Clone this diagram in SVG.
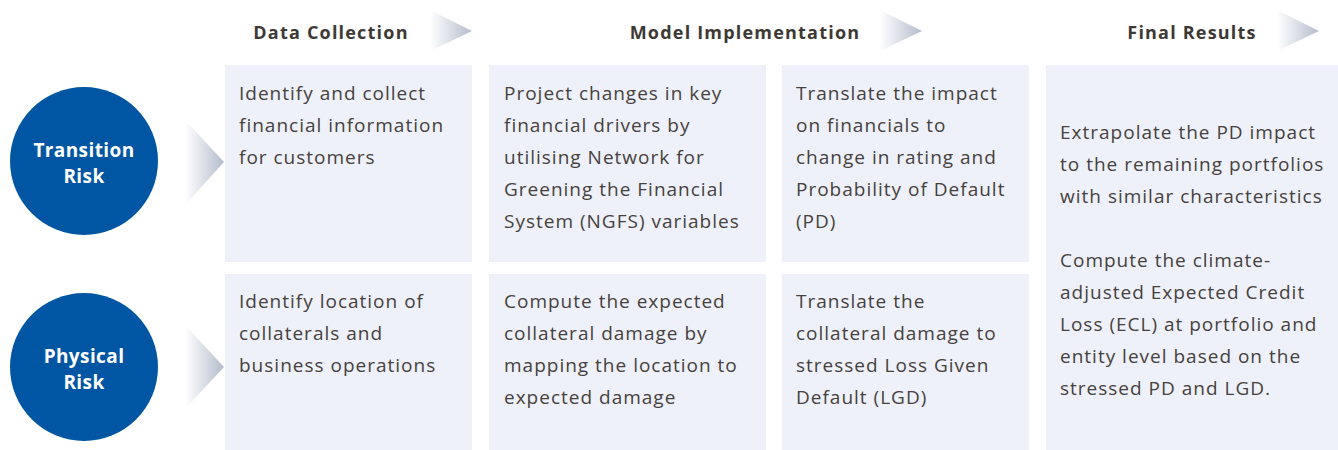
<svg xmlns="http://www.w3.org/2000/svg" width="1338" height="450" viewBox="0 0 1338 450">
<defs>
<linearGradient id="gh" x1="0" y1="0" x2="1" y2="0">
<stop offset="0" stop-color="#ffffff"/>
<stop offset="1" stop-color="#b3bccd"/>
</linearGradient>
<style>
.box{fill:#eef1fa}
.t{font-family:"Open Sans","Liberation Sans",Arial,sans-serif;font-size:19px;letter-spacing:1px;fill:#46413d}
.h{font-family:"Open Sans","Liberation Sans",Arial,sans-serif;font-size:18px;font-weight:bold;letter-spacing:1.2px;fill:#3d3935}
.c{font-family:"Open Sans","Liberation Sans",Arial,sans-serif;font-size:19px;font-weight:bold;letter-spacing:0.4px;fill:#ffffff;text-anchor:middle}
.circ{fill:#0056a2}
.arr{fill:url(#gh)}
</style>
</defs>
<rect width="1338" height="450" fill="#ffffff"/>
<g id="headers">
<text class="h" x="331" y="39" text-anchor="middle">Data Collection</text>
<polygon class="arr" points="430,10 472,31 430,51"/>
<text class="h" x="745" y="39" text-anchor="middle">Model Implementation</text>
<polygon class="arr" points="880,10 922,31 880,51"/>
<text class="h" x="1192" y="39" text-anchor="middle">Final Results</text>
<polygon class="arr" points="1277,10 1319,31 1277,51"/>
</g>
<g id="transition-risk">
<circle class="circ" cx="84" cy="161" r="74"/>
<text class="c" x="84" y="157">Transition</text>
<text class="c" x="84" y="183">Risk</text>
<polygon class="arr" points="185,120 224,162 185,205"/>
</g>
<g id="physical-risk">
<circle class="circ" cx="84" cy="367" r="74"/>
<text class="c" x="84" y="363">Physical</text>
<text class="c" x="84" y="389">Risk</text>
<polygon class="arr" points="185,325 224,367 185,409"/>
</g>
<g id="box-dc-transition">
<rect class="box" x="225" y="65" width="247" height="197"/>
<text class="t" x="239" y="100">Identify and collect</text>
<text class="t" x="239" y="132">financial information</text>
<text class="t" x="239" y="164">for customers</text>
</g>
<g id="box-dc-physical">
<rect class="box" x="225" y="274" width="247" height="176"/>
<text class="t" x="239" y="308">Identify location of</text>
<text class="t" x="239" y="340">collaterals and</text>
<text class="t" x="239" y="372">business operations</text>
</g>
<g id="box-mi1-transition">
<rect class="box" x="489" y="65" width="277" height="197"/>
<text class="t" x="504" y="100">Project changes in key</text>
<text class="t" x="504" y="132">financial drivers by</text>
<text class="t" x="504" y="164">utilising Network for</text>
<text class="t" x="504" y="196">Greening the Financial</text>
<text class="t" x="504" y="228">System (NGFS) variables</text>
</g>
<g id="box-mi1-physical">
<rect class="box" x="489" y="274" width="277" height="176"/>
<text class="t" x="504" y="308">Compute the expected</text>
<text class="t" x="504" y="340">collateral damage by</text>
<text class="t" x="504" y="372">mapping the location to</text>
<text class="t" x="504" y="404">expected damage</text>
</g>
<g id="box-mi2-transition">
<rect class="box" x="782" y="65" width="247" height="197"/>
<text class="t" x="796" y="100">Translate the impact</text>
<text class="t" x="796" y="132">on financials to</text>
<text class="t" x="796" y="164">change in rating and</text>
<text class="t" x="796" y="196">Probability of Default</text>
<text class="t" x="796" y="228">(PD)</text>
</g>
<g id="box-mi2-physical">
<rect class="box" x="782" y="274" width="247" height="176"/>
<text class="t" x="796" y="308">Translate the</text>
<text class="t" x="796" y="340">collateral damage to</text>
<text class="t" x="796" y="372">stressed Loss Given</text>
<text class="t" x="796" y="404">Default (LGD)</text>
</g>
<g id="box-final">
<rect class="box" x="1046" y="65" width="292" height="385"/>
<text class="t" x="1060" y="139">Extrapolate the PD impact</text>
<text class="t" x="1060" y="171">to the remaining portfolios</text>
<text class="t" x="1060" y="203">with similar characteristics</text>
<text class="t" x="1060" y="267">Compute the climate-</text>
<text class="t" x="1060" y="299">adjusted Expected Credit</text>
<text class="t" x="1060" y="331">Loss (ECL) at portfolio and</text>
<text class="t" x="1060" y="363">entity level based on the</text>
<text class="t" x="1060" y="395">stressed PD and LGD.</text>
</g>
<g id="connectors"></g>
</svg>
